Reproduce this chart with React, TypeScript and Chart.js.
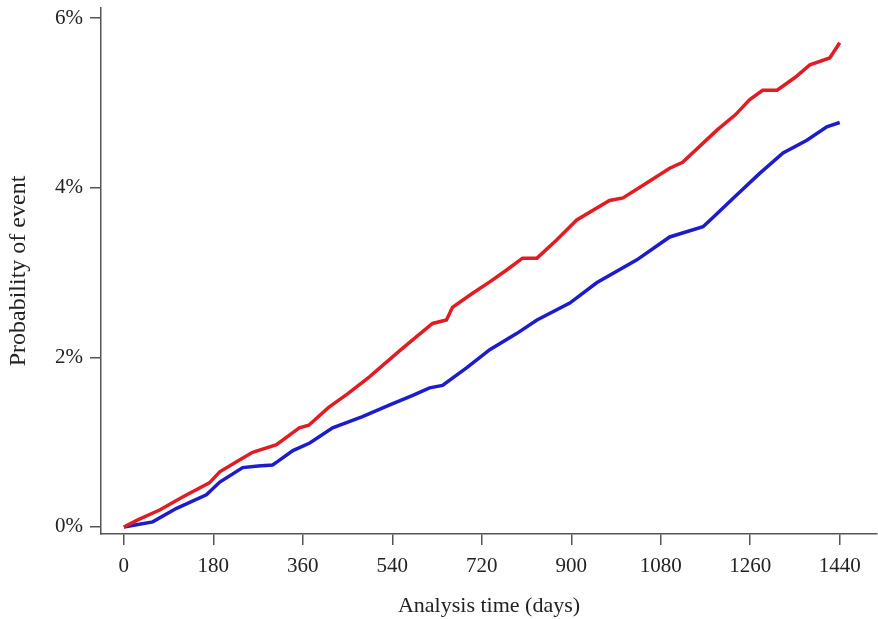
import React, { useEffect, useRef } from "react";
import { Chart, registerables } from "chart.js";

Chart.register(...registerables);

const redDays = [0, 30, 72, 120, 172, 193, 230, 259, 307, 353, 372, 412, 450, 494, 555, 590, 621, 649, 661, 700, 736, 770, 802, 831, 870, 911, 977, 1004, 1050, 1098, 1124, 1193, 1230, 1259, 1285, 1314, 1350, 1380, 1420, 1440];
const redValues = [0, 0.09, 0.2, 0.36, 0.52, 0.65, 0.78, 0.88, 0.97, 1.17, 1.2, 1.41, 1.57, 1.77, 2.08, 2.25, 2.4, 2.44, 2.59, 2.75, 2.89, 3.03, 3.17, 3.17, 3.38, 3.62, 3.85, 3.88, 4.05, 4.23, 4.3, 4.68, 4.86, 5.04, 5.15, 5.15, 5.3, 5.45, 5.53, 5.71];

const blueDays = [0, 20, 58, 106, 166, 193, 239, 270, 299, 309, 340, 374, 420, 480, 535, 580, 615, 641, 690, 736, 790, 831, 897, 951, 1032, 1098, 1165, 1185, 1230, 1279, 1326, 1374, 1414, 1440];
const blueValues = [0, 0.02, 0.06, 0.22, 0.38, 0.53, 0.7, 0.72, 0.73, 0.77, 0.9, 0.99, 1.17, 1.3, 1.44, 1.55, 1.64, 1.67, 1.88, 2.09, 2.28, 2.44, 2.64, 2.88, 3.15, 3.42, 3.54, 3.65, 3.9, 4.17, 4.41, 4.56, 4.72, 4.77];

const xTicks = [0, 180, 360, 540, 720, 900, 1080, 1260, 1440];
const yTicks = [0, 2, 4, 6];

const xTitle = "Analysis time (days)";
const yTitle = "Probability of event";

const FONT = '"Liberation Serif", "Times New Roman", serif';

export default function App() {
  const ref = useRef<HTMLCanvasElement | null>(null);

  useEffect(() => {
    document.body.style.margin = "0";
    const ctx = ref.current!.getContext("2d")!;
    const chart = new Chart(ctx, {
      type: "line",
      data: {
        datasets: [
          {
            label: "Red",
            data: redDays.map((d, i) => ({ x: d, y: redValues[i] })),
            borderColor: "rgb(225,28,34)",
            borderWidth: 3.5,
            pointRadius: 0,
            tension: 0,
            fill: false,
          },
          {
            label: "Blue",
            data: blueDays.map((d, i) => ({ x: d, y: blueValues[i] })),
            borderColor: "rgb(28,28,205)",
            borderWidth: 3.5,
            pointRadius: 0,
            tension: 0,
            fill: false,
          },
        ],
      },
      options: {
        animation: false,
        responsive: false,
        maintainAspectRatio: false,
        layout: { padding: { top: 8, right: 1, bottom: 0, left: 0 } },
        plugins: { legend: { display: false }, tooltip: { enabled: false } },
        scales: {
          x: {
            type: "linear",
            min: -46,
            max: 1515,
            afterBuildTicks: (s: any) => {
              s.ticks = xTicks.map((v) => ({ value: v }));
            },
            afterFit: (s: any) => {
              s.height = 619 - 534;
              s.paddingLeft = 0;
              s.paddingRight = 0;
            },
            border: { display: true, color: "#555", width: 1.5 },
            grid: { drawOnChartArea: false, drawTicks: true, tickLength: 11, color: "#555", lineWidth: 1.5 },
            ticks: {
              font: { family: FONT, size: 21 },
              color: "#222",
              padding: 9,
              maxRotation: 0,
              autoSkip: false,
              callback: (v: any) => String(v),
            },
            title: { display: true, text: xTitle, font: { family: FONT, size: 22 }, color: "#222", padding: { top: 0, bottom: 0 } },
          },
          y: {
            type: "linear",
            min: -0.083,
            max: 6.12,
            afterBuildTicks: (s: any) => {
              s.ticks = yTicks.map((v) => ({ value: v }));
            },
            afterFit: (s: any) => {
              s.width = 101;
              s.paddingTop = 0;
              s.paddingBottom = 0;
            },
            border: { display: true, color: "#555", width: 1.5 },
            grid: { drawOnChartArea: false, drawTicks: true, tickLength: 11, color: "#555", lineWidth: 1.5 },
            ticks: {
              font: { family: FONT, size: 21 },
              color: "#222",
              padding: 7,
              callback: (v: any) => `${v}%`,
            },
            title: { display: true, text: yTitle, font: { family: FONT, size: 24 }, color: "#222", padding: { top: 4, bottom: 0 } },
          },
        },
      },
    });
    return () => chart.destroy();
  }, []);

  return (
    <div style={{ width: 878, height: 619 }}>
      <canvas ref={ref} width={878} height={619} style={{ display: "block" }} />
    </div>
  );
}
